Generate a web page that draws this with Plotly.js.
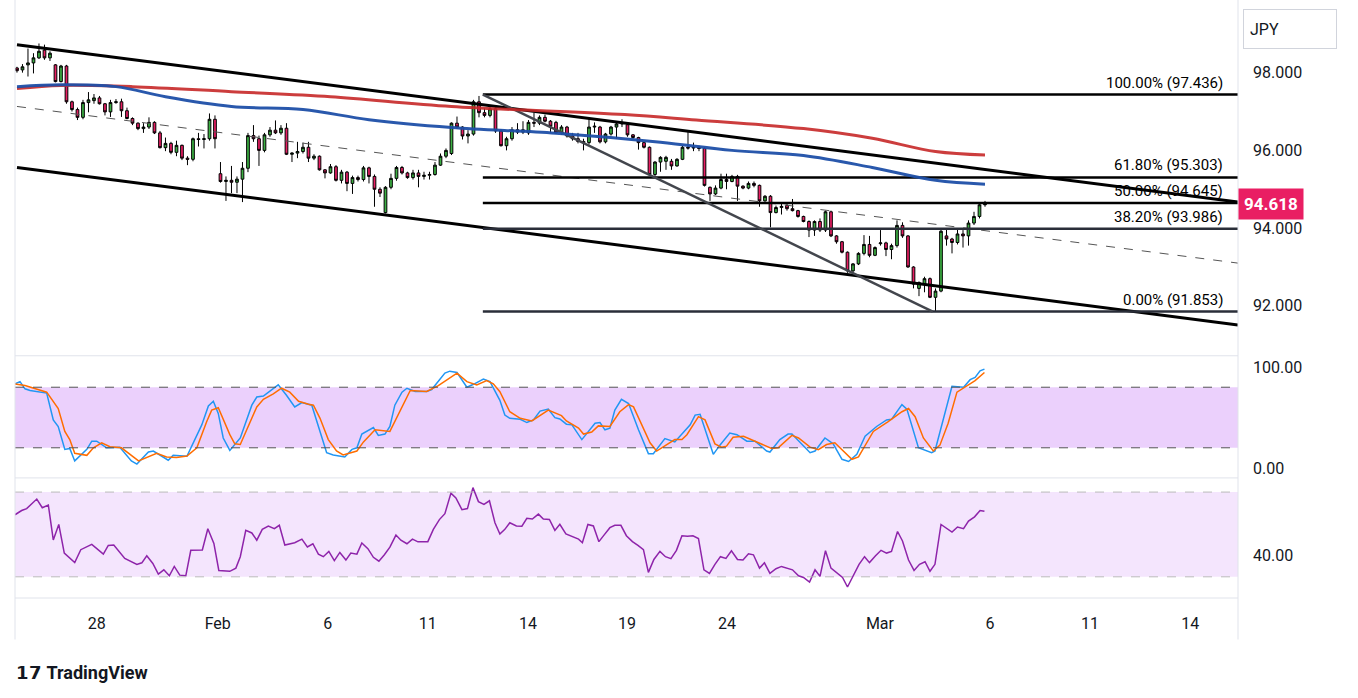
<!DOCTYPE html>
<html><head><meta charset="utf-8">
<script src="https://cdn.plot.ly/plotly-3.0.1.min.js"></script>
<style>body{margin:0;background:#fff}#c{width:1358px;height:698px}</style>
</head><body><div id="c"></div>
<script>
const open=[98.12,98.07,98.2,98.25,98.38,98.58,98.38,98.2,97.77,98.17,97.25,97.05,96.85,97.23,97.28,97.35,97.2,96.99,97.23,97.25,97.02,96.82,96.7,96.56,96.6,96.72,96.45,96.07,96.18,95.95,96.13,95.8,95.77,96.3,96.28,96.3,96.8,95.4,95.2,95.23,95.18,95.26,95.54,96.38,96.3,96.0,96.4,96.52,96.45,96.57,95.9,95.93,95.97,96.08,95.8,95.85,95.5,95.42,95.58,95.23,95.44,95.15,95.3,95.25,95.55,95.33,95.0,94.4,95.05,95.28,95.56,95.42,95.3,95.42,95.33,95.36,95.38,95.62,95.85,95.92,96.7,96.6,96.37,96.42,97.25,96.97,96.9,97.07,96.5,96.12,96.3,96.53,96.47,96.45,96.72,96.7,96.85,96.75,96.72,96.45,96.6,96.37,96.3,96.23,96.2,96.6,96.6,96.22,96.42,96.6,96.68,96.66,96.4,96.33,96.2,96.08,95.38,95.7,95.72,95.72,95.6,95.77,96.08,96.06,96.08,96.05,95.05,94.88,95.03,95.25,95.2,95.33,95.08,95.03,95.15,95.1,94.7,94.82,94.4,94.53,94.58,94.5,94.45,94.3,94.17,93.95,94.17,93.95,94.42,93.8,93.65,93.38,92.9,93.08,93.35,93.58,93.3,93.6,93.62,93.45,93.55,94.07,93.8,93.0,92.45,92.56,92.7,92.22,92.38,93.8,93.72,93.63,93.85,93.8,94.13,94.3,94.6];
const high=[98.15,98.22,98.62,98.5,98.75,98.72,98.55,98.22,98.2,98.2,97.28,97.1,97.3,97.5,97.45,97.4,97.22,97.3,97.32,97.33,97.1,96.85,96.72,96.7,96.85,96.75,96.5,96.33,96.22,96.25,96.15,95.85,96.33,96.45,96.42,96.95,96.9,95.7,95.33,95.6,95.33,95.7,96.45,96.65,96.38,96.45,96.6,96.77,96.65,96.7,95.95,96.22,96.2,96.22,95.9,95.87,95.52,95.65,95.62,95.5,95.47,95.35,95.35,95.6,95.58,95.38,95.05,95.08,95.4,95.6,95.6,95.45,95.5,95.5,95.45,95.45,95.7,95.92,96.05,96.72,96.87,96.62,96.52,97.3,97.4,97.08,97.15,97.12,96.55,96.35,96.6,96.7,96.75,96.78,96.97,96.9,96.92,96.78,96.76,96.65,96.63,96.45,96.45,96.3,96.82,96.72,96.63,96.45,96.63,96.75,96.8,96.7,96.42,96.35,96.22,96.1,95.72,95.85,95.86,95.78,95.8,96.12,96.48,96.2,96.12,96.08,95.07,95.1,95.4,95.4,95.37,95.37,95.1,95.2,95.2,95.12,94.85,94.85,94.58,94.65,94.65,94.75,94.47,94.32,94.2,94.2,94.25,94.45,94.45,93.82,93.67,93.4,93.1,93.38,93.82,93.8,93.53,93.95,93.65,93.6,94.2,94.15,93.82,93.02,92.63,92.75,92.73,92.45,94.0,94.0,93.75,94.0,93.95,94.2,94.42,94.65,94.7];
const low=[98.0,98.0,97.9,97.98,98.35,98.33,98.3,97.75,97.75,97.2,97.0,96.78,96.8,96.98,97.2,97.18,96.9,96.86,97.2,96.86,96.8,96.65,96.52,96.45,96.55,96.42,96.05,95.98,95.9,95.85,95.75,95.62,95.72,96.1,96.05,96.25,96.05,95.17,94.7,94.9,94.9,94.67,95.44,96.22,95.6,95.95,96.35,96.42,96.4,95.88,95.7,95.8,95.92,95.7,95.75,95.48,95.28,95.4,95.2,95.15,94.95,94.88,95.2,95.2,95.15,94.55,94.8,94.38,95.0,95.22,95.38,95.27,95.25,95.05,95.25,95.25,95.35,95.6,95.8,95.88,96.55,96.28,96.18,96.38,96.85,96.85,96.85,96.45,96.1,96.0,96.25,96.42,96.42,96.4,96.6,96.65,96.72,96.45,96.42,96.4,96.33,96.25,96.18,96.0,96.15,96.45,96.18,96.18,96.38,96.3,96.6,96.35,96.3,96.02,96.05,95.35,95.33,95.45,95.5,95.5,95.58,95.75,96.02,95.98,95.98,95.07,94.7,94.85,95.0,95.0,95.18,94.7,95.0,95.0,95.05,94.55,94.68,94.02,94.38,94.35,94.45,94.43,94.27,94.15,93.77,93.8,93.9,93.9,93.77,93.6,93.35,92.85,92.85,93.05,93.3,93.25,93.28,93.55,93.28,93.2,93.5,93.75,92.98,92.45,92.25,92.35,92.2,91.85,92.35,93.55,93.35,93.58,93.5,93.55,94.08,94.25,94.55];
const close=[98.05,98.15,98.25,98.38,98.55,98.38,98.5,97.77,98.17,97.25,97.05,96.85,97.23,97.3,97.35,97.2,96.99,97.23,97.25,97.02,96.82,96.7,96.56,96.6,96.72,96.45,96.07,96.18,95.95,96.13,95.8,95.77,96.3,96.28,96.3,96.8,96.3,95.2,95.23,95.18,95.26,95.54,96.38,96.3,96.0,96.4,96.52,96.45,96.57,95.9,95.93,95.97,96.08,95.8,95.85,95.5,95.42,95.58,95.23,95.44,95.15,95.3,95.25,95.55,95.33,95.0,94.9,95.05,95.28,95.56,95.42,95.3,95.42,95.33,95.36,95.38,95.62,95.85,96.0,96.7,96.6,96.37,96.42,97.25,96.97,96.9,97.07,96.5,96.12,96.3,96.53,96.47,96.53,96.72,96.7,96.85,96.75,96.62,96.45,96.6,96.37,96.3,96.23,96.2,96.6,96.62,96.22,96.42,96.6,96.68,96.7,96.4,96.33,96.2,96.08,95.38,95.7,95.82,95.82,95.6,95.77,96.08,96.06,96.08,96.05,95.1,94.88,95.03,95.25,95.2,95.33,95.08,95.03,95.15,95.1,94.7,94.82,94.4,94.53,94.56,94.5,94.45,94.3,94.17,93.95,94.17,93.95,94.42,93.8,93.65,93.38,92.9,93.08,93.35,93.58,93.3,93.5,93.62,93.45,93.55,94.07,93.8,93.0,92.56,92.6,92.7,92.22,92.38,93.92,93.72,93.63,93.85,93.8,94.13,94.3,94.6,94.618];

const maX=[0,8,18,27,39,52,64,79,98,117,130,143,155.5,167,176];
const ma100=[97.64,97.69,97.64,97.38,97.13,97.05,96.79,96.59,96.44,96.21,96.0,95.87,95.56,95.23,95.13];
const ma200X=[0,8,21,39,57,79,110.5,123.5,143,155.5,167,176];
const ma200=[97.59,97.67,97.64,97.51,97.38,97.13,96.92,96.78,96.56,96.31,95.97,95.88];

const kX=[-0.36,0.55,1.46,2.37,5.4,6.6,7.5,8.7,9.6,10.5,12.7,13.6,14.5,16.3,18.7,20.8,21.8,23.9,24.8,27.5,28.4,30.9,33.6,34.8,35.7,36.6,37.5,38.7,40.6,42.7,43.6,44.8,47.5,49.0,50.5,51.8,53.6,56.3,57.5,59.6,60.9,61.8,62.7,64.8,65.7,66.9,67.8,68.7,70.0,70.9,72.4,74.5,75.4,77.8,78.7,80.0,81.8,83.0,84.8,86.0,87.8,88.7,89.6,91.5,92.7,93.9,95.1,96.6,97.8,98.7,99.9,100.9,102.7,103.9,105.1,106.0,106.9,107.8,108.7,109.9,111.2,113.0,114.8,115.7,117.8,119.6,122.4,123.3,124.2,126.6,127.8,129.6,130.9,132.7,134.2,136.3,136.9,138.7,140.2,140.9,144.2,145.1,146.9,148.4,150.0,151.2,152.7,154.2,156.3,158.1,159.0,160.9,161.8,163.9,166.3,166.9,170.0,172.1,173.3,174.2,175.1,175.9];
const stochK=[83.3,85.5,78.4,76.8,74.2,47.6,41.1,18.4,19.4,7.0,18.4,26.5,26.5,20,20.6,7.0,3.8,15.8,16.8,7.7,12.5,11.6,42.7,61.5,66.1,54.1,29.7,17.4,29.7,62.2,70.3,71.3,82.3,72.0,60.5,64.8,62.2,15.1,12.9,10.9,18.4,20,33.6,40.1,32.3,33.6,41.1,62.2,75.1,79.0,75.8,75.8,77.7,94.0,95.9,94.6,80.0,82.9,88.1,85.5,67.0,52.4,49.2,48.2,45.0,47.6,56.3,58.3,49.8,48.5,43.4,42.7,28.1,36.2,44.3,45.0,37.8,39.5,57.3,68.0,63.8,37.8,14.2,14.2,29.1,25.8,42.7,52.4,53.1,13.5,22.6,34.6,33.0,26.5,26.5,16.8,15.8,28.1,33.6,33.6,15.1,16.8,29.7,23.9,8.6,6.4,13.5,31.4,41.1,47.6,48.2,62.8,58.3,20,15.1,16.8,81.0,80.0,87.5,89.7,96.2,97.9];
const dX=[-0.36,1.46,5.4,7.5,8.7,9.6,10.5,12.7,13.9,15.4,16.9,19.0,22.1,23.6,25.4,27.2,29.0,30.9,32.7,34.5,35.4,36.6,38.7,39.6,40.6,43.6,44.8,46.6,48.1,49.6,51.2,53.0,53.9,55.1,56.6,58.1,59.3,61.8,63.0,65.1,66.6,67.8,71.5,74.5,76.6,80.0,81.8,83.6,85.4,86.6,87.8,89.6,91.5,93.6,96.6,99.0,99.9,102.1,103.0,104.5,105.7,107.8,109.6,111.2,112.1,113.9,115.1,116.3,118.1,119.6,120.9,121.8,123.9,125.1,126.9,128.1,129.0,130.2,132.1,133.9,135.7,137.2,138.4,140.9,142.1,144.2,145.7,147.2,148.7,151.8,153.0,155.7,158.4,160.9,162.1,163.3,164.8,166.6,167.8,169.3,170.9,172.4,174.2,175.9];
const stochD=[83.3,81.6,75.1,58.9,36.2,28.1,14.5,12.5,20,24.9,21.0,20,7.0,10.3,14.5,10.9,10.3,11.9,20,46.0,57.3,59.6,33.0,23.9,23.2,60.5,68.0,73.5,79.0,75.1,66.1,63.1,62.2,49.2,28.1,16.8,12.9,16.8,25.8,37.8,36.9,36.2,76.8,75.8,81.6,94.0,85.5,82.3,86.5,83.3,75.5,55.7,49.2,46.6,57.3,51.8,46.6,39.5,33.6,35.6,41.7,41.1,55.7,62.8,60.5,39.5,24.9,16.8,23.2,28.1,28.1,33.0,50.8,47.6,23.9,20.6,21.6,30.4,31.4,27.1,23.2,19.4,20,32.3,29.7,20.6,18.1,23.2,24.9,8.6,10.9,36.2,46.0,55.7,58.9,50.8,29.7,16.8,22.6,44.3,75.1,80.0,86.5,94.6];

const rsiX=[-0.36,0.85,1.76,3.6,4.6,5.7,6.6,7.6,8.6,10.5,11.6,13.6,15.7,16.6,17.6,19.6,21.8,22.7,23.6,24.7,25.7,26.7,27.7,28.6,29.6,30.7,31.6,33.7,34.7,35.8,36.7,38.7,39.8,40.6,41.6,42.7,43.6,44.6,45.7,46.8,47.7,48.7,50.5,51.8,52.8,53.8,54.8,55.7,56.7,57.7,58.7,59.8,60.7,61.8,62.7,63.8,64.8,65.8,66.8,67.8,68.9,69.8,70.9,71.9,72.9,74.7,75.7,76.8,77.8,78.9,79.8,80.9,81.9,82.9,83.9,84.9,85.9,86.9,87.8,88.7,89.6,90.8,91.8,92.7,93.7,94.8,95.7,96.8,97.8,98.7,99.8,100.9,102.1,102.8,103.8,104.8,105.8,106.8,107.8,108.7,109.8,110.8,111.9,112.9,113.9,114.8,115.8,116.9,117.9,118.9,119.9,120.9,121.9,122.9,123.9,124.9,125.9,126.9,127.9,128.9,129.9,131.0,132.0,133.0,133.9,135.0,135.9,136.9,138.0,139.0,140.1,141.0,142.1,143.0,144.1,145.1,146.0,147.0,148.0,149.0,150.1,151.0,152.1,153.1,154.1,155.0,156.1,157.1,158.1,159.0,160.1,161.0,162.1,163.1,164.1,165.1,166.0,166.9,168.0,169.0,170.0,171.0,172.1,173.0,174.1,175.1,175.9];
const rsi=[59.3,61.3,62.2,66.7,62.6,63.9,47.4,54.7,41.2,36.7,42.8,45.3,40.7,44.8,45.0,38.7,35.8,36.6,39.9,36.3,31.3,33.3,30.5,34.9,30.8,30.5,42.5,42.7,52.7,45.8,33.0,32.6,34.1,39.5,51.9,50.7,47.3,52.4,53.9,52.7,54.3,45.0,46.1,47.8,44.1,45.6,40.7,39.5,42.0,37.6,41.5,37.9,41.2,40.7,46.0,43.3,39.2,37.4,40.4,44.0,49.7,47.3,45.6,47.8,46.5,46.6,52.4,57.0,59.8,69.5,67.2,61.7,62.2,72.1,65.5,64.2,65.9,55.5,50.2,52.4,55.5,54.0,53.9,57.6,57.3,59.6,57.3,57.1,51.9,54.8,50.2,48.9,47.8,46.1,54.7,54.0,46.6,49.9,53.2,54.3,54.3,49.4,46.6,44.8,42.8,32.1,38.2,42.0,39.5,38.6,42.5,49.4,49.1,49.4,48.1,33.3,31.6,35.9,39.5,38.7,42.3,38.2,37.9,40.9,40.4,34.1,36.6,31.6,33.8,34.9,33.9,33.3,30.5,29.7,27.5,33.3,30.2,42.3,34.1,32.1,29.7,25.2,30.8,35.9,39.5,36.7,39.9,42.5,41.2,42.0,51.4,46.9,37.9,33.0,35.9,37.1,32.6,35.9,54.7,52.7,51.1,53.5,52.7,56.3,58.3,61.3,60.9];

const chanX=[0,222];
const chanUpper=[98.72,94.67];
const chanMid=[97.13,93.10];
const chanLower=[95.56,91.51];
const fibHigh=97.436, fibLow=91.853, fibStart=84.7, fibEnd=166.5;
const fibRatios=[1,0.618,0.5,0.382,0];
const fibNames=['100.00%','61.80%','50.00%','38.20%','0.00%'];
const fibColors=['#000','#000','#000','#2a2e39','#2a2e39'];
const tickPos=[14.5,36.5,56.5,74.7,92.9,110.9,129.1,156.9,176.9,195.1,213.3];
const tickText=['28','Feb','6','11','14','19','24','Mar','6','11','14'];
const lastPrice=94.618;

const idx=close.map((_,i)=>i);
const XR=[-0.36,222];
const traces=[];
function line(x,y,color,width,dash,ya){traces.push({type:'scatter',mode:'lines',x:x,y:y,xaxis:ya==='y'?'x3':(ya==='y2'?'x2':'x'),yaxis:ya,line:{color:color,width:width,dash:dash||'solid'},hoverinfo:'skip',showlegend:false});}
line(chanX,chanUpper,'#000',3,null,'y');
line(chanX,chanLower,'#000',3,null,'y');
line(chanX,chanMid,'#555',1,'dash','y');
fibRatios.forEach((r,i)=>{const p=fibLow+r*(fibHigh-fibLow);line([fibStart,XR[1]],[p,p],fibColors[i],2.5,null,'y');});
line([fibStart,fibEnd],[fibHigh,fibLow],'#43464d',2.5,null,'y');
traces.push({type:'scatter',mode:'lines',x:ma200X,y:ma200,xaxis:'x3',yaxis:'y',line:{color:'#c62828',width:3,shape:'spline'},opacity:0.9,hoverinfo:'skip',showlegend:false});
traces.push({type:'scatter',mode:'lines',x:maX,y:ma100,xaxis:'x3',yaxis:'y',line:{color:'#1e4fa8',width:3,shape:'spline'},opacity:0.95,hoverinfo:'skip',showlegend:false});
traces.push({type:'candlestick',x:idx,open:open,high:high,low:low,close:close,xaxis:'x3',yaxis:'y',
  increasing:{line:{color:'#000',width:1},fillcolor:'#3cb043'},
  decreasing:{line:{color:'#000',width:1},fillcolor:'#e91e63'},whiskerwidth:0,showlegend:false,hoverinfo:'skip'});
line(kX,stochK,'#2196f3',1.5,null,'y2');
line(dX,stochD,'#ff6d00',1.5,null,'y2');
line(rsiX,rsi,'#8e24aa',1.5,null,'y3');

const shapes=[
 {type:'rect',xref:'x2',yref:'y2',x0:XR[0],x1:XR[1],y0:20,y1:80,fillcolor:'#ebd0fc',line:{width:0},layer:'below'},
 {type:'line',xref:'x2',yref:'y2',x0:XR[0],x1:XR[1],y0:80,y1:80,line:{color:'#555',width:1,dash:'dash'}},
 {type:'line',xref:'x2',yref:'y2',x0:XR[0],x1:XR[1],y0:20,y1:20,line:{color:'#555',width:1,dash:'dash'}},
 {type:'rect',xref:'x',yref:'y3',x0:XR[0],x1:XR[1],y0:30,y1:70,fillcolor:'#f4e5fd',line:{width:0},layer:'below'},
 {type:'line',xref:'x',yref:'y3',x0:XR[0],x1:XR[1],y0:70,y1:70,line:{color:'#bbb',width:1,dash:'dash'}},
 {type:'line',xref:'x',yref:'y3',x0:XR[0],x1:XR[1],y0:30,y1:30,line:{color:'#bbb',width:1,dash:'dash'}},
 {type:'line',xref:'paper',yref:'paper',x0:0,x1:1.0,y0:0.4085,y1:0.4085,line:{color:'#e0e3eb',width:1}},
 {type:'line',xref:'paper',yref:'paper',x0:0,x1:1.0,y0:0.2025,y1:0.2025,line:{color:'#e0e3eb',width:1}},
 {type:'line',xref:'paper',yref:'paper',x0:0,x1:1.0,y0:0,y1:0,line:{color:'#e0e3eb',width:1}},
 {type:'line',xref:'paper',yref:'paper',x0:1,x1:1,y0:-0.07,y1:1.01,line:{color:'#e0e3eb',width:1}},
 {type:'line',xref:'paper',yref:'paper',x0:0,x1:0,y0:-0.07,y1:1.01,line:{color:'#e0e3eb',width:1}}
];
const annotations=fibRatios.map((r,i)=>{const p=fibLow+r*(fibHigh-fibLow);return {xref:'x3',yref:'y',x:219.6,y:p,text:fibNames[i]+' ('+(Math.round(p*1000+1e-6)/1000).toFixed(3)+')',showarrow:false,xanchor:'right',yanchor:'bottom',yshift:1,font:{family:'Roboto, sans-serif',size:15,color:'#000'}};});
annotations.push({xref:'paper',yref:'y',x:1,y:lastPrice,text:'<b>'+lastPrice.toFixed(3)+'</b>',showarrow:false,xanchor:'left',bgcolor:'#e91e63',font:{family:'Roboto, sans-serif',size:17,color:'#fff'},borderpad:5});
annotations.push({xref:'paper',yref:'paper',x:1,y:1,text:'JPY',showarrow:false,xanchor:'left',yanchor:'top',width:80,height:26,align:'left',bordercolor:'#d1d4dc',borderwidth:1,borderpad:6,font:{family:'Roboto, sans-serif',size:16,color:'#131722'},xshift:5,yshift:-4});
annotations.push({xref:'paper',yref:'paper',x:-0.001,y:-0.105,text:'<b>𝟭𝟳</b> <b>TradingView</b>',showarrow:false,xanchor:'left',yanchor:'top',font:{family:'Roboto, sans-serif',size:18,color:'#131722'}});

const tf={family:'Roboto, sans-serif',size:16,color:'#131722'};
const layout={width:1358,height:698,margin:{l:15,r:120,t:5,b:100},paper_bgcolor:'#fff',plot_bgcolor:'#fff',showlegend:false,
 xaxis:{domain:[0,1],anchor:'y3',range:XR,tickvals:tickPos,ticktext:tickText,showgrid:false,zeroline:false,rangeslider:{visible:false},ticks:'',tickfont:tf,ticklabelstandoff:14},
 xaxis2:{matches:'x',anchor:'y2',showticklabels:false,showgrid:false,zeroline:false,range:XR},
 xaxis3:{matches:'x',anchor:'y',showticklabels:false,showgrid:false,zeroline:false,range:XR,rangeslider:{visible:false}},
 yaxis:{domain:[0.412,1],range:[90.77,99.74],side:'right',tickvals:[92,94,96,98],ticktext:['92.000','94.000','96.000','98.000'],showgrid:false,zeroline:false,tickfont:tf,ticks:'',ticklabelstandoff:14},
 yaxis2:{domain:[0.206,0.406],range:[-7.8,109.7],side:'right',tickvals:[0,100],ticktext:['0.00','100.00'],showgrid:false,zeroline:false,tickfont:tf,ticks:'',ticklabelstandoff:14},
 yaxis3:{domain:[0,0.199],range:[20,75.7],side:'right',tickvals:[40],ticktext:['40.00'],showgrid:false,zeroline:false,tickfont:tf,ticks:'',ticklabelstandoff:14},
 shapes:shapes,annotations:annotations};
Plotly.newPlot('c',traces,layout,{staticPlot:true});
</script></body></html>
